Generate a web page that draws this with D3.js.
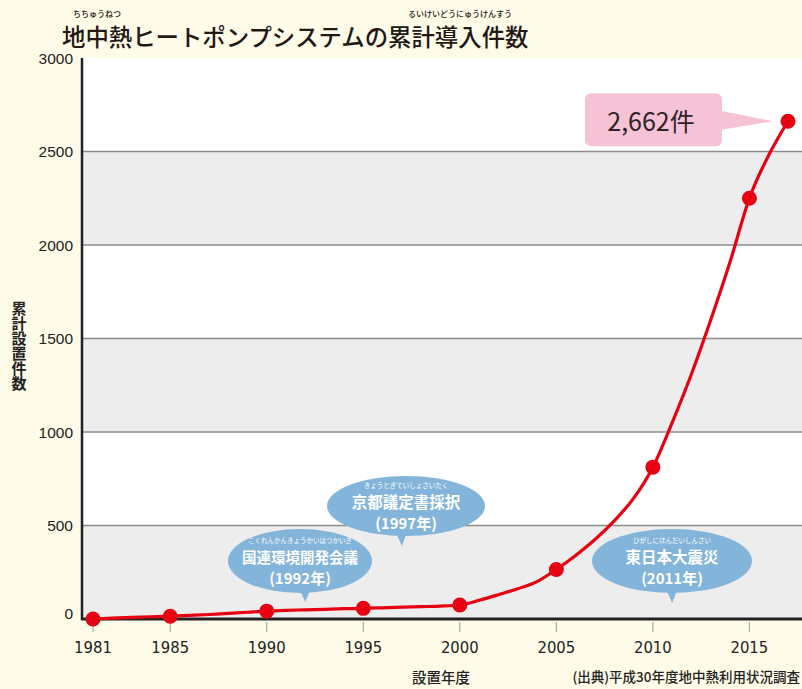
<!DOCTYPE html>
<html lang="ja">
<head>
<meta charset="utf-8">
<script src="https://cdn.jsdelivr.net/npm/d3@7"></script>
<style>
  html, body { margin: 0; padding: 0; background: #fefbe8; }
  svg { display: block; }
</style>
</head>
<body>
<svg id="chart" width="802" height="689"></svg>
<script>
// Cumulative installations of ground-source heat pump systems, by year
const years = [1981, 1982, 1983, 1984, 1985, 1986, 1987, 1988, 1989, 1990,
               1991, 1992, 1993, 1994, 1995, 1996, 1997, 1998, 1999, 2000,
               2001, 2002, 2003, 2004, 2005, 2006, 2007, 2008, 2009, 2010,
               2011, 2012, 2013, 2014, 2015, 2016, 2017];
const totals = [0, 5, 9, 12, 15, 19, 24, 30, 36, 42,
                46, 49, 52, 55, 57, 60, 63, 66, 69, 75,
                100, 130, 162, 200, 265, 340, 425, 525, 645, 812,
                1050, 1310, 1600, 1910, 2250, 2480, 2662];
// Years that carry a dot marker
const markedYears = [1981, 1985, 1990, 1995, 2000, 2005, 2010, 2015, 2017];
const xTickYears = [1981, 1985, 1990, 1995, 2000, 2005, 2010, 2015];
const yTickValues = [0, 500, 1000, 1500, 2000, 2500, 3000];

// Event bubbles
const eventYears = [1992, 1997, 2011];
const eventNames = ["国連環境開発会議", "京都議定書採択", "東日本大震災"];
const eventRuby = ["こくれんかんきょうかいはつかいぎ", "きょうとぎていしょさいたく", "ひがしにほんだいしんさい"];

const latestLabel = "2,662件";

const svg = d3.select("#chart");
const W = 802, H = 689;
const plot = { left: 82, right: 802, top: 58, bottom: 619 };

const x = d3.scaleLinear().domain([1981, 2017]).range([93, 788]);
const y = d3.scaleLinear().domain([0, 3000]).range([plot.bottom, plot.top]);

const jp = "'Noto Sans CJK JP', 'Noto Sans', sans-serif";

// background
svg.append("rect").attr("width", W).attr("height", H).attr("fill", "#fefbe8");

// plot area with alternating bands
svg.append("rect")
  .attr("x", plot.left).attr("y", plot.top)
  .attr("width", plot.right - plot.left).attr("height", plot.bottom - plot.top)
  .attr("fill", "#ffffff");
const bandStarts = [0, 1000, 2000];
svg.append("g").selectAll("rect").data(bandStarts).join("rect")
  .attr("x", plot.left).attr("width", plot.right - plot.left)
  .attr("y", d => y(d + 500)).attr("height", d => y(d) - y(d + 500))
  .attr("fill", "#ededed");

// horizontal gridlines
svg.append("g").selectAll("line").data(yTickValues.filter(v => v > 0 && v < 3000)).join("line")
  .attr("x1", plot.left).attr("x2", plot.right)
  .attr("y1", d => y(d)).attr("y2", d => y(d))
  .attr("stroke", "#8c8c8c").attr("stroke-width", 1.6);

// y tick labels
svg.append("g").selectAll("text").data(yTickValues).join("text")
  .attr("x", 73)
  .attr("y", d => d === 0 ? y(d) - 6 : y(d))
  .attr("text-anchor", "end")
  .attr("dominant-baseline", "central")
  .attr("font-family", "'Liberation Sans', Arial, sans-serif")
  .attr("font-size", 15.5)
  .attr("fill", "#222")
  .text(d => d);

// x ticks and labels
const xt = svg.append("g");
xt.selectAll("line").data(xTickYears).join("line")
  .attr("x1", d => x(d)).attr("x2", d => x(d))
  .attr("y1", plot.bottom + 3).attr("y2", plot.bottom + 13)
  .attr("stroke", "#9a9a9a").attr("stroke-width", 1);
xt.selectAll("text").data(xTickYears).join("text")
  .attr("x", d => x(d)).attr("y", 647)
  .attr("text-anchor", "middle").attr("dominant-baseline", "central")
  .attr("font-family", "'Liberation Sans Narrow', 'DejaVu Sans Condensed', sans-serif")
  .attr("font-size", 16.5)
  .attr("fill", "#222")
  .text(d => d);

// axis lines
svg.append("line")
  .attr("x1", plot.left).attr("x2", plot.left)
  .attr("y1", plot.top).attr("y2", plot.bottom + 1)
  .attr("stroke", "#222").attr("stroke-width", 2.5);
svg.append("line")
  .attr("x1", plot.left - 1).attr("x2", plot.right)
  .attr("y1", plot.bottom).attr("y2", plot.bottom)
  .attr("stroke", "#222").attr("stroke-width", 3);

// event bubbles
const bubbleLayout = [
  { cx: 300, cy: 561, rx: 72, ry: 32, tipY: 602, size: 14.5 },
  { cx: 406, cy: 506, rx: 79, ry: 30, tipY: 546, size: 15.5 },
  { cx: 672, cy: 561, rx: 80, ry: 32, tipY: 603, size: 15.5 }
];
const bubbleColor = "#83b4d9";
const bubbles = svg.append("g").selectAll("g").data(eventYears).join("g");
bubbles.append("path")
  .attr("d", (d, i) => {
    const b = bubbleLayout[i], tx = x(d);
    return `M${tx - 7},${b.cy + b.ry - 6} L${tx},${b.tipY} L${tx + 6},${b.cy + b.ry - 6} Z`;
  })
  .attr("fill", bubbleColor);
bubbles.append("ellipse")
  .attr("cx", (d, i) => bubbleLayout[i].cx)
  .attr("cy", (d, i) => bubbleLayout[i].cy)
  .attr("rx", (d, i) => bubbleLayout[i].rx)
  .attr("ry", (d, i) => bubbleLayout[i].ry)
  .attr("fill", bubbleColor);
bubbles.append("text")
  .attr("x", (d, i) => bubbleLayout[i].cx)
  .attr("y", (d, i) => bubbleLayout[i].cy - 21)
  .attr("text-anchor", "middle").attr("dominant-baseline", "central")
  .attr("font-family", jp).attr("font-size", 6.5).attr("fill", "#ffffff")
  .text((d, i) => eventRuby[i]);
bubbles.append("text")
  .attr("x", (d, i) => bubbleLayout[i].cx)
  .attr("y", (d, i) => bubbleLayout[i].cy - 5)
  .attr("text-anchor", "middle").attr("dominant-baseline", "central")
  .attr("font-family", jp).attr("font-weight", 700)
  .attr("font-size", (d, i) => bubbleLayout[i].size).attr("fill", "#ffffff")
  .text((d, i) => eventNames[i]);
bubbles.append("text")
  .attr("x", (d, i) => bubbleLayout[i].cx)
  .attr("y", (d, i) => bubbleLayout[i].cy + 16)
  .attr("text-anchor", "middle").attr("dominant-baseline", "central")
  .attr("font-family", jp).attr("font-weight", 700)
  .attr("font-size", 15).attr("fill", "#ffffff")
  .text(d => `(${d}年)`);

// cumulative line
const series = years.map((yr, i) => ({ year: yr, value: totals[i] }));
const line = d3.line().x(d => x(d.year)).y(d => y(d.value)).curve(d3.curveMonotoneX);
svg.append("path")
  .datum(series)
  .attr("d", line)
  .attr("fill", "none")
  .attr("stroke", "#e60012")
  .attr("stroke-width", 3.2)
  .attr("stroke-linejoin", "round");

svg.append("g").selectAll("circle")
  .data(series.filter(d => markedYears.includes(d.year)))
  .join("circle")
  .attr("cx", d => x(d.year)).attr("cy", d => y(d.value))
  .attr("r", 7.5)
  .attr("fill", "#e60012");

// latest-value callout
const last = series[series.length - 1];
const lx = x(last.year), ly = y(last.value);
const call = svg.append("g");
call.append("path")
  .attr("d", `M718,${ly - 11} L${lx - 15},${ly} L718,${ly + 9} Z`)
  .attr("fill", "#f6c3d6");
call.append("rect")
  .attr("x", 585).attr("y", ly - 28).attr("width", 137).attr("height", 53)
  .attr("rx", 6).attr("fill", "#f6c3d6");
call.append("text")
  .attr("x", 651).attr("y", ly - 1)
  .attr("text-anchor", "middle").attr("dominant-baseline", "central")
  .attr("font-family", jp).attr("font-size", 25)
  .attr("fill", "#2e2228")
  .text(latestLabel);

// title with reading aids
svg.append("text")
  .attr("x", 62).attr("y", 36)
  .attr("dominant-baseline", "central")
  .attr("font-family", jp).attr("font-weight", 500)
  .attr("font-size", 23.4).attr("fill", "#231815")
  .text("地中熱ヒートポンプシステムの累計導入件数");
svg.append("text")
  .attr("x", 97).attr("y", 13).attr("text-anchor", "middle")
  .attr("dominant-baseline", "central")
  .attr("font-family", jp).attr("font-weight", 500)
  .attr("font-size", 8).attr("fill", "#231815")
  .text("ちちゅうねつ");
svg.append("text")
  .attr("x", 460).attr("y", 13).attr("text-anchor", "middle")
  .attr("dominant-baseline", "central")
  .attr("font-family", jp).attr("font-weight", 500)
  .attr("font-size", 8).attr("fill", "#231815")
  .text("るいけいどうにゅうけんすう");

// axis titles
svg.append("text")
  .attr("x", 19).attr("y", 346)
  .attr("text-anchor", "middle")
  .style("writing-mode", "vertical-rl")
  .attr("font-family", jp).attr("font-weight", 700)
  .attr("font-size", 15).attr("fill", "#222")
  .text("累計設置件数");
svg.append("text")
  .attr("x", 441).attr("y", 676)
  .attr("text-anchor", "middle").attr("dominant-baseline", "central")
  .attr("font-family", jp).attr("font-weight", 500)
  .attr("font-size", 14.5).attr("fill", "#222")
  .text("設置年度");

// source note
svg.append("text")
  .attr("x", 800).attr("y", 676)
  .attr("text-anchor", "end").attr("dominant-baseline", "central")
  .attr("font-family", jp).attr("font-weight", 500)
  .attr("font-size", 13.5).attr("fill", "#222")
  .text("(出典)平成30年度地中熱利用状況調査");
</script>
</body>
</html>
